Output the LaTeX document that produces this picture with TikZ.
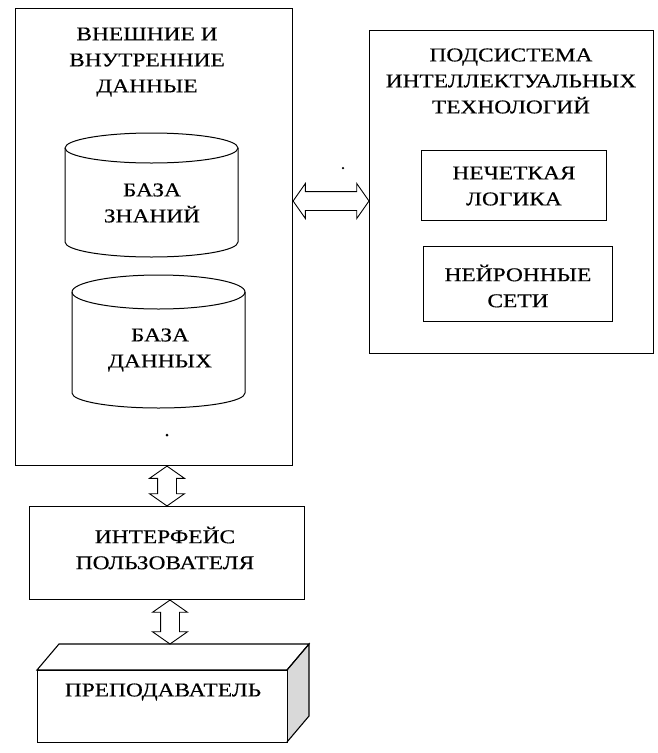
\documentclass[tikz,border=0pt]{standalone}
\usepackage{fontspec}
\setmainfont[FakeStretch=1.2,FakeBold=0.4]{Liberation Serif}
\usetikzlibrary{shapes.arrows,calc}
\tikzset{
  box/.style={draw, line width=1.1pt, inner sep=0pt},
  thinbox/.style={draw, line width=0.9pt, inner sep=0pt},
  lbl/.style={align=center, font=\fontsize{19.5}{26}\selectfont, inner sep=0pt},
  cyl/.style={draw, line width=1pt},
  hollow/.style={double arrow, draw, line width=0.9pt, inner xsep=0pt, inner ysep=9pt,
    minimum width=34pt, double arrow head extend=8pt, double arrow tip angle=110},
  speck/.style={fill=black, circle, inner sep=0pt, minimum size=3pt}
}
\begin{document}
\begin{tikzpicture}[x=1pt,y=-1pt]
\useasboundingbox (0,0) rectangle (657,753);
% left big box
\node[box, minimum width=277pt, minimum height=457pt, anchor=north west] (ext) at (15,8) {};
\node[lbl] (extt) at (147,62) {ВНЕШНИЕ И\\ВНУТРЕННИЕ\\ДАННЫЕ};
% cylinder 1
\draw[cyl] (65,148) arc[start angle=180,end angle=0,x radius=86.5pt,y radius=15pt]
  -- (238,242) arc[start angle=0,end angle=-180,x radius=86.5pt,y radius=15pt] -- cycle;
\draw[cyl] (65,148) arc[start angle=180,end angle=360,x radius=86.5pt,y radius=15pt];
\node[lbl] (kb) at (152,203) {БАЗА\\ЗНАНИЙ};
% cylinder 2
\draw[cyl] (72,292) arc[start angle=180,end angle=0,x radius=86.5pt,y radius=17pt]
  -- (245,393) arc[start angle=0,end angle=-180,x radius=86.5pt,y radius=15pt] -- cycle;
\draw[cyl] (72,292) arc[start angle=180,end angle=360,x radius=86.5pt,y radius=17pt];
\node[lbl] (db) at (160,350) {БАЗА\\ДАННЫХ};
\node[speck] (d1) at (167,435) {};
% right box
\node[thinbox, minimum width=284pt, minimum height=323pt, anchor=north west] (its) at (369,30) {};
\node[lbl] (itst) at (511,81) {ПОДСИСТЕМА\\ИНТЕЛЛЕКТУАЛЬНЫХ\\ТЕХНОЛОГИЙ};
\node[thinbox, minimum width=185pt, minimum height=70pt] (fz) at (514,185) {};
\node[lbl] (fzt) at (514,186) {НЕЧЕТКАЯ\\ЛОГИКА};
\node[thinbox, minimum width=189pt, minimum height=75pt] (nn) at (518,284) {};
\node[lbl] (nnt) at (518,286) {НЕЙРОННЫЕ\\СЕТИ};
\node[speck, minimum size=2.5pt] (d2) at (343,168) {};
% horizontal hollow arrow
\path let \p1=(ext.east), \p2=(its.west) in
  node[hollow, minimum height={\x2-\x1}] (ah) at ({(\x1+\x2)/2},-201pt) {};
% interface
\node[box, minimum width=275pt, minimum height=93pt] (ui) at (167,553) {};
\node[lbl] (uit) at (165,548) {ИНТЕРФЕЙС\\ПОЛЬЗОВАТЕЛЯ};
\path let \p1=(ext.south), \p2=(ui.north) in
  node[hollow, rotate=90, minimum height={\y1-\y2}] (av1) at (167pt,{(\y1+\y2)/2}) {};
% teacher prism
\coordinate (tA) at (37,670);
\coordinate (tB) at (287,670);
\coordinate (tC) at (287,742);
\coordinate (tTop) at (170,644);
\fill[gray!30] (tB) -- ++(22,-26) -- ++(0,72) -- (tC) -- cycle;
\draw[box] (tA) -- ++(22,-26) -- ++(250,0) -- (tB) -- cycle;
\draw[box] (tB) -- ++(22,-26) -- ++(0,72) -- (tC);
\node[box, minimum width=250pt, minimum height=72pt, anchor=north west] (tch) at (tA) {};
\node[lbl] (tcht) at (163,692) {ПРЕПОДАВАТЕЛЬ};
\path let \p1=(ui.south), \p2=(tTop) in
  node[hollow, rotate=90, minimum height={\y1-\y2}] (av2) at (170pt,{(\y1+\y2)/2}) {};
\end{tikzpicture}
\end{document}
